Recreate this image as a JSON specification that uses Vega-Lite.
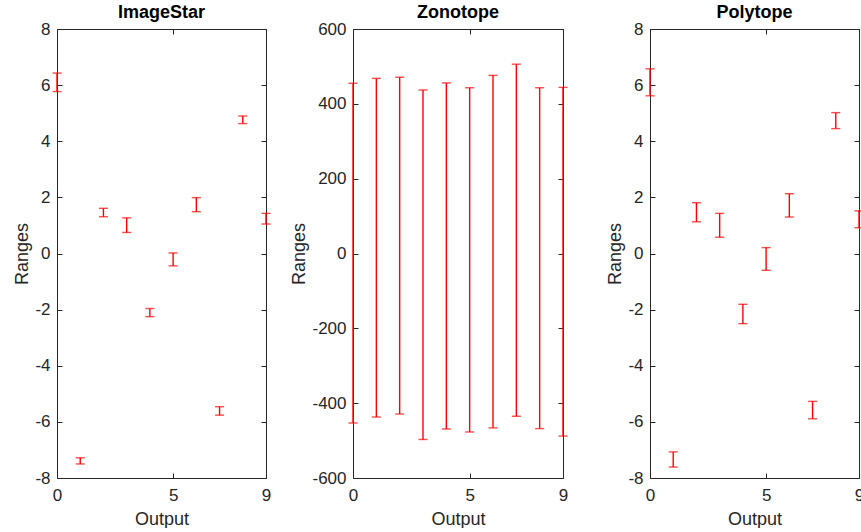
{
  "$schema": "https://vega.github.io/schema/vega-lite/v6.json",
  "padding": {"left": 13, "top": 4, "right": 0, "bottom": 0},
  "background": "white",
  "config": {
    "view": {"stroke": null},
    "font": "Liberation Sans",
    "axis": {
      "grid": false,
      "domainColor": "#262626",
      "tickColor": "#262626",
      "labelColor": "#262626",
      "titleColor": "#262626",
      "labelFont": "Liberation Sans",
      "titleFont": "Liberation Sans",
      "labelFontSize": 17,
      "titleFontSize": 18,
      "titleFontWeight": "normal",
      "tickSize": -5,
      "domainWidth": 1,
      "tickWidth": 1,
      "labelFlush": false,
      "labelOverlap": false,
      "labelExpr": "'' + datum.value"
    },
    "title": {"font": "Liberation Sans", "fontSize": 18, "fontWeight": "bold", "color": "#000000", "offset": -2, "anchor": "middle"}
  },
  "datasets": {
    "imagestar": [
      {"x": 0, "lo": 5.77, "hi": 6.43},
      {"x": 1, "lo": -7.50, "hi": -7.28},
      {"x": 2, "lo": 1.31, "hi": 1.61},
      {"x": 3, "lo": 0.75, "hi": 1.27},
      {"x": 4, "lo": -2.25, "hi": -1.96},
      {"x": 5, "lo": -0.44, "hi": 0.02},
      {"x": 6, "lo": 1.49, "hi": 1.99},
      {"x": 7, "lo": -5.76, "hi": -5.46},
      {"x": 8, "lo": 4.63, "hi": 4.90},
      {"x": 9, "lo": 1.05, "hi": 1.43}
    ],
    "zonotope": [
      {"x": 0, "lo": -453, "hi": 455},
      {"x": 1, "lo": -437, "hi": 468},
      {"x": 2, "lo": -429, "hi": 471},
      {"x": 3, "lo": -497, "hi": 437},
      {"x": 4, "lo": -469, "hi": 456},
      {"x": 5, "lo": -477, "hi": 443},
      {"x": 6, "lo": -466, "hi": 476},
      {"x": 7, "lo": -435, "hi": 506},
      {"x": 8, "lo": -468, "hi": 443},
      {"x": 9, "lo": -488, "hi": 444}
    ],
    "polytope": [
      {"x": 0, "lo": 5.62, "hi": 6.58},
      {"x": 1, "lo": -7.61, "hi": -7.07},
      {"x": 2, "lo": 1.13, "hi": 1.81},
      {"x": 3, "lo": 0.58, "hi": 1.43},
      {"x": 4, "lo": -2.50, "hi": -1.81},
      {"x": 5, "lo": -0.60, "hi": 0.21},
      {"x": 6, "lo": 1.30, "hi": 2.13},
      {"x": 7, "lo": -5.89, "hi": -5.27},
      {"x": 8, "lo": 4.45, "hi": 5.02},
      {"x": 9, "lo": 0.92, "hi": 1.52}
    ]
  },
  "hconcat": [
    {
      "width": 209, "height": 449,
      "title": "ImageStar",
      "data": {"name": "imagestar"},
      "layer": [
        {
          "mark": {"type": "rule", "color": "#ff0000", "strokeWidth": 1.4},
          "encoding": {
            "x": {"field": "x", "type": "quantitative", "scale": {"domain": [0, 9], "nice": false, "zero": false},
                  "axis": {"orient": "bottom", "values": [0, 5, 9], "title": "Output", "labelPadding": 14, "titlePadding": 7}},
            "y": {"field": "lo", "type": "quantitative", "scale": {"domain": [-8, 8], "nice": false, "zero": false},
                  "axis": {"orient": "left", "values": [-8, -6, -4, -2, 0, 2, 4, 6, 8], "title": "Ranges", "labelPadding": 12, "titlePadding": 3}},
            "y2": {"field": "hi"}
          }
        },
        {
          "mark": {"type": "tick", "orient": "horizontal", "color": "#ff0000", "size": 9, "thickness": 1.4},
          "encoding": {
            "x": {"field": "x", "type": "quantitative", "axis": {"orient": "top", "values": [0, 5, 9], "labels": false, "title": null}},
            "y": {"field": "lo", "type": "quantitative", "axis": {"orient": "right", "values": [-8, -6, -4, -2, 0, 2, 4, 6, 8], "labels": false, "title": null}}
          }
        },
        {
          "mark": {"type": "tick", "orient": "horizontal", "color": "#ff0000", "size": 9, "thickness": 1.4},
          "encoding": {
            "x": {"field": "x", "type": "quantitative", "axis": null},
            "y": {"field": "hi", "type": "quantitative", "axis": null}
          }
        }
      ]
    },
    {
      "width": 210, "height": 449,
      "title": "Zonotope",
      "data": {"name": "zonotope"},
      "layer": [
        {
          "mark": {"type": "rule", "color": "#ff0000", "strokeWidth": 1.4},
          "encoding": {
            "x": {"field": "x", "type": "quantitative", "scale": {"domain": [0, 9], "nice": false, "zero": false},
                  "axis": {"orient": "bottom", "values": [0, 5, 9], "title": "Output", "labelPadding": 14, "titlePadding": 7}},
            "y": {"field": "lo", "type": "quantitative", "scale": {"domain": [-600, 600], "nice": false, "zero": false},
                  "axis": {"orient": "left", "values": [-600, -400, -200, 0, 200, 400, 600], "title": "Ranges", "labelPadding": 12, "titlePadding": 3}},
            "y2": {"field": "hi"}
          }
        },
        {
          "mark": {"type": "tick", "orient": "horizontal", "color": "#ff0000", "size": 9, "thickness": 1.4},
          "encoding": {
            "x": {"field": "x", "type": "quantitative", "axis": {"orient": "top", "values": [0, 5, 9], "labels": false, "title": null}},
            "y": {"field": "lo", "type": "quantitative", "axis": {"orient": "right", "values": [-600, -400, -200, 0, 200, 400, 600], "labels": false, "title": null}}
          }
        },
        {
          "mark": {"type": "tick", "orient": "horizontal", "color": "#ff0000", "size": 9, "thickness": 1.4},
          "encoding": {
            "x": {"field": "x", "type": "quantitative", "axis": null},
            "y": {"field": "hi", "type": "quantitative", "axis": null}
          }
        }
      ]
    },
    {
      "width": 209, "height": 449,
      "title": "Polytope",
      "data": {"name": "polytope"},
      "layer": [
        {
          "mark": {"type": "rule", "color": "#ff0000", "strokeWidth": 1.4},
          "encoding": {
            "x": {"field": "x", "type": "quantitative", "scale": {"domain": [0, 9], "nice": false, "zero": false},
                  "axis": {"orient": "bottom", "values": [0, 5, 9], "title": "Output", "labelPadding": 14, "titlePadding": 7}},
            "y": {"field": "lo", "type": "quantitative", "scale": {"domain": [-8, 8], "nice": false, "zero": false},
                  "axis": {"orient": "left", "values": [-8, -6, -4, -2, 0, 2, 4, 6, 8], "title": "Ranges", "labelPadding": 12, "titlePadding": 3}},
            "y2": {"field": "hi"}
          }
        },
        {
          "mark": {"type": "tick", "orient": "horizontal", "color": "#ff0000", "size": 9, "thickness": 1.4},
          "encoding": {
            "x": {"field": "x", "type": "quantitative", "axis": {"orient": "top", "values": [0, 5, 9], "labels": false, "title": null}},
            "y": {"field": "lo", "type": "quantitative", "axis": {"orient": "right", "values": [-8, -6, -4, -2, 0, 2, 4, 6, 8], "labels": false, "title": null}}
          }
        },
        {
          "mark": {"type": "tick", "orient": "horizontal", "color": "#ff0000", "size": 9, "thickness": 1.4},
          "encoding": {
            "x": {"field": "x", "type": "quantitative", "axis": null},
            "y": {"field": "hi", "type": "quantitative", "axis": null}
          }
        }
      ]
    }
  ],
  "spacing": 87,
  "bounds": "flush"
}
